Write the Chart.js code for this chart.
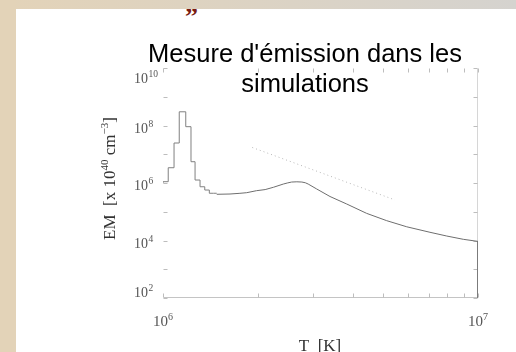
<!DOCTYPE html>
<html>
<head>
<meta charset="utf-8">
<script src="https://cdn.jsdelivr.net/npm/chart.js@4.4.0/dist/chart.umd.min.js"></script>
<style>
  body { margin: 0; }
  #slide { position: relative; width: 516px; height: 352px; background: #fff; overflow: hidden; }
  #bandTop { position: absolute; left: 0; top: 0; width: 516px; height: 9px; background: linear-gradient(to right, #e3d3b8, #d5d3cf); z-index: 2; }
  #bandLeft { position: absolute; left: 0; top: 0; width: 16px; height: 352px; background: #e3d3b8; z-index: 2; }
  #quote { position: absolute; left: 185px; top: 4px; font: bold 26px 'Liberation Serif', serif; line-height: 26px; color: #7a1c12; z-index: 1; }
  #emChart { position: absolute; left: 0; top: 0; z-index: 3; }
</style>
</head>
<body>
<div id="slide">
  <div id="bandTop"></div>
  <div id="bandLeft"></div>
  <div id="quote">”</div>
  <canvas id="emChart" width="516" height="352"></canvas>
</div>
<script>
// low temperature bins (left edges + last right edge) and their EM
const binEdges = [1.000e6, 1.039e6, 1.084e6, 1.126e6, 1.181e6, 1.227e6, 1.264e6, 1.311e6, 1.357e6, 1.403e6, 1.445e6, 1.481e6];
const binEM = [9.8e5, 1.11e6, 3.4e6, 2.46e7, 3.0e8, 9.1e7, 5.5e6, 1.27e6, 7.4e5, 5.7e5, 4.4e5];

// fine part of the distribution
const curveT = [1.481e6, 1.632e6, 1.755e6, 1.844e6, 1.98e6, 2.11e6, 2.24e6, 2.41e6, 2.48e6, 2.56e6, 2.66e6, 2.76e6, 2.83e6, 2.89e6,
                3.075e6, 3.39e6, 3.83e6, 4.43e6, 5.13e6, 5.94e6, 7.04e6, 7.96e6, 8.98e6, 1.0e7, 1.0e7];
const curveEM = [4.05e5, 4.14e5, 4.38e5, 4.6e5, 5.4e5, 5.9e5, 7.08e5, 9.2e5, 1.0e6, 1.08e6, 1.1e6, 1.08e6, 1.02e6, 9.2e5,
                 6.2e5, 3.39e5, 1.86e5, 8.8e4, 4.9e4, 3.0e4, 1.93e4, 1.43e4, 1.1e4, 9.3e3, 1e2];

// dotted reference slope
const refT = [1.92e6, 5.45e6];
const refEM = [1.72e7, 2.57e5];

const yTicks = [1e2, 1e3, 1e4, 1e5, 1e6, 1e7, 1e8, 1e9, 1e10];
const yLabels = [1e2, 1e4, 1e6, 1e8, 1e10];
const xTicks = [1e6, 2e6, 3e6, 4e6, 5e6, 6e6, 7e6, 8e6, 9e6, 1e7];
const xLabels = [1e6, 1e7];

const toPoints = (xs, ys) => xs.map((x, i) => ({ x: x, y: ys[i] }));
const histPoints = binEdges.map((e, i) => ({ x: e, y: binEM[Math.min(i, binEM.length - 1)] }));

const serif = '"Liberation Serif", "Times New Roman", serif';

const axesDecor = {
    id: 'axesDecor',
    // frame and ticks go under the curves
    beforeDatasetsDraw(chart) {
        const ctx = chart.ctx;
        const a = chart.chartArea;
        const xs = chart.scales.x, ys = chart.scales.y;
        const L = Math.round(a.left) + 0.5, R = Math.round(a.right) - 0.5;
        const T = Math.round(a.top) + 0.5, B = Math.round(a.bottom) - 0.5;
        ctx.save();
        ctx.lineWidth = 1;
        ctx.strokeStyle = '#c4c4c4';
        ctx.beginPath(); ctx.moveTo(L, B); ctx.lineTo(R, B); ctx.stroke();
        ctx.strokeStyle = '#d6d6d6';
        ctx.beginPath(); ctx.moveTo(R, T); ctx.lineTo(R, B); ctx.stroke();

        ctx.strokeStyle = '#bdbdbd';
        ctx.beginPath();
        yTicks.forEach(v => {
            const p = Math.round(ys.getPixelForValue(v)) + 0.5;
            ctx.moveTo(L, p); ctx.lineTo(L + 4, p);
            ctx.moveTo(R, p); ctx.lineTo(R - 4, p);
        });
        xTicks.forEach(v => {
            const p = Math.round(xs.getPixelForValue(v)) + 0.5;
            ctx.moveTo(p, B); ctx.lineTo(p, B - 4);
            ctx.moveTo(p, T); ctx.lineTo(p, T + 4);
        });
        ctx.stroke();
        ctx.restore();
    },
    afterDraw(chart) {
        const ctx = chart.ctx;
        const a = chart.chartArea;
        const xs = chart.scales.x, ys = chart.scales.y;
        ctx.save();

        // y tick labels
        ctx.fillStyle = '#555';
        yLabels.forEach(v => {
            const exp = String(Math.round(Math.log10(v)));
            let yc = ys.getPixelForValue(v) + 3.5;
            yc = Math.min(Math.max(yc, a.top + 11), a.bottom - 4.5);
            ctx.textBaseline = 'middle';
            ctx.textAlign = 'right';
            ctx.font = '14px ' + serif;
            ctx.fillText('10', 148, yc);
            ctx.textAlign = 'left';
            ctx.font = '9.5px ' + serif;
            ctx.fillText(exp, 148.5, yc - 5);
        });

        // x tick labels
        ctx.textBaseline = 'alphabetic';
        ctx.textAlign = 'left';
        xLabels.forEach(v => {
            const exp = String(Math.round(Math.log10(v)));
            ctx.font = '15px ' + serif;
            const wb = ctx.measureText('10').width;
            ctx.font = '10px ' + serif;
            const we = ctx.measureText(exp).width;
            const x0 = xs.getPixelForValue(v) - (wb + we) / 2;
            ctx.font = '15px ' + serif;
            ctx.fillText('10', x0, 326);
            ctx.font = '10px ' + serif;
            ctx.fillText(exp, x0 + wb, 320);
        });

        // axis titles
        ctx.fillStyle = '#333';
        ctx.font = '17px ' + serif;
        ctx.textAlign = 'center';
        ctx.fillText('T  [K]', 320, 351);

        ctx.save();
        ctx.translate(115, 240);
        ctx.rotate(-Math.PI / 2);
        ctx.textAlign = 'left';
        const parts = [['EM  [x 10', 0], ['40', 1], [' cm', 0], ['\u22123', 1], [']', 0]];
        let cx = 0;
        parts.forEach(([txt, sup]) => {
            ctx.font = (sup ? '11px ' : '17px ') + serif;
            ctx.fillText(txt, cx, sup ? -7 : 0);
            cx += ctx.measureText(txt).width;
        });
        ctx.restore();

        // title
        ctx.fillStyle = '#000';
        ctx.font = '25.5px "Liberation Sans", Arial, sans-serif';
        ctx.textAlign = 'center';
        ctx.fillText("Mesure d'émission dans les", 305, 61.5);
        ctx.fillText('simulations', 305, 91.5);

        ctx.restore();
    }
};

new Chart(document.getElementById('emChart'), {
    type: 'line',
    data: {
        datasets: [
            {
                data: histPoints,
                stepped: 'after',
                borderColor: '#808080',
                borderWidth: 1,
                pointRadius: 0
            },
            {
                data: toPoints(curveT, curveEM),
                borderColor: '#6e6e6e',
                borderWidth: 1,
                pointRadius: 0
            },
            {
                data: toPoints(refT, refEM),
                borderColor: '#b8b8b8',
                borderWidth: 1,
                borderDash: [1, 3],
                pointRadius: 0
            }
        ]
    },
    options: {
        responsive: false,
        animation: false,
        layout: { padding: { left: 163, right: 38, top: 68, bottom: 54 } },
        plugins: { legend: { display: false }, tooltip: { enabled: false } },
        scales: {
            x: { type: 'logarithmic', min: 1e6, max: 1e7, display: false },
            y: { type: 'logarithmic', min: 1e2, max: 1e10, display: false }
        }
    },
    plugins: [axesDecor]
});
</script>
</body>
</html>
